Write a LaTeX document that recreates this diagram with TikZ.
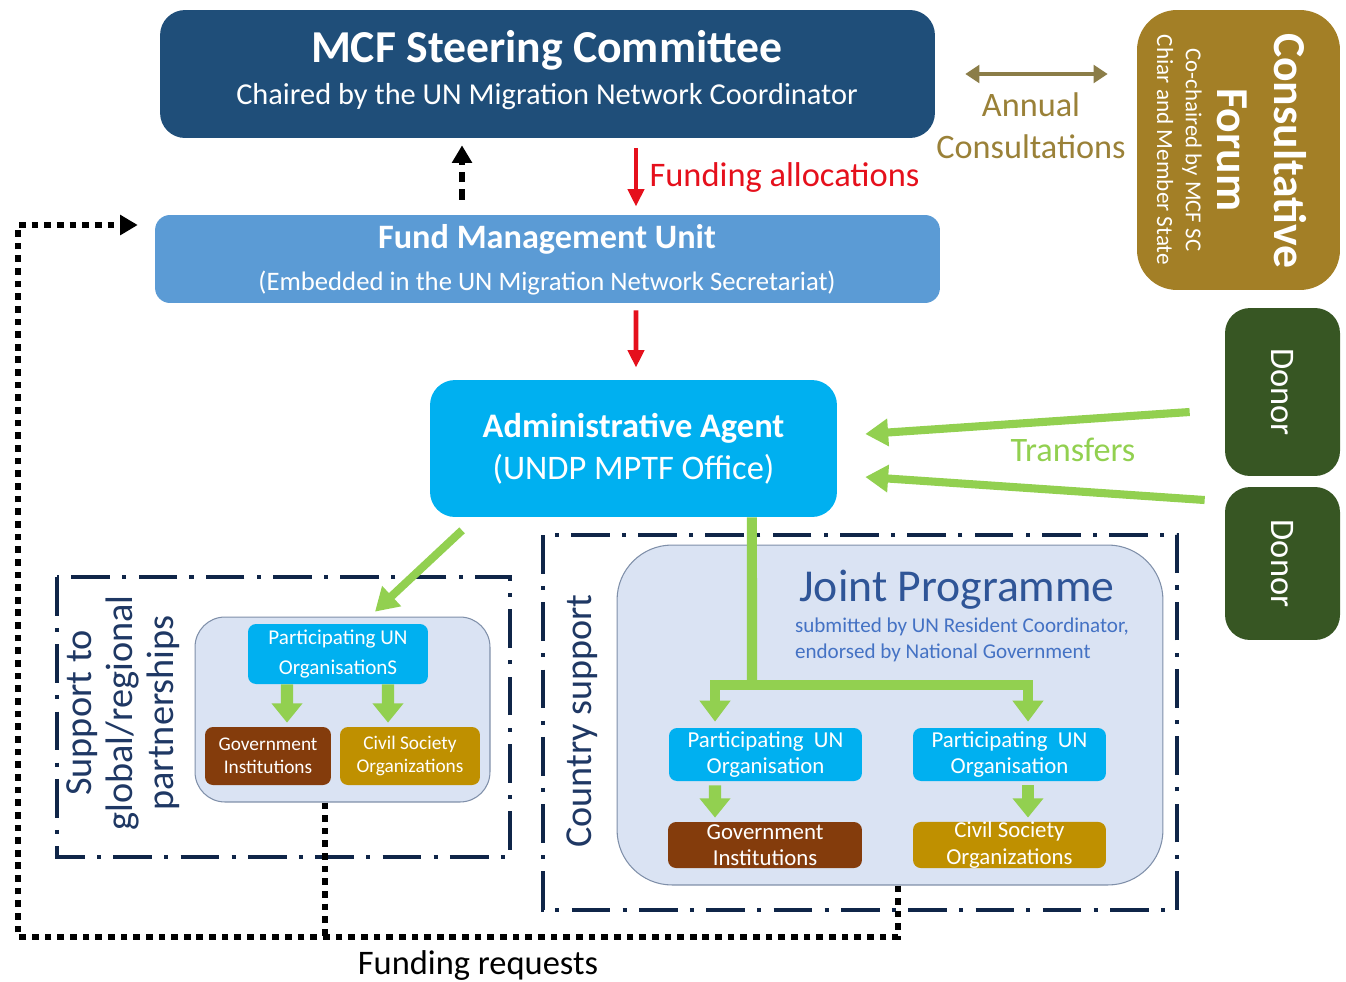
\documentclass[tikz,border=0pt]{standalone}
\usepackage{fontspec}
\setmainfont{Carlito}
\usetikzlibrary{arrows.meta}

\definecolor{steerblue}{HTML}{1F4E79}
\definecolor{fmublue}{HTML}{5B9BD5}
\definecolor{aacyan}{HTML}{00B0F0}
\definecolor{forumgold}{HTML}{A37F26}
\definecolor{annualline}{HTML}{8B7D48}
\definecolor{annualtext}{HTML}{9A8138}
\definecolor{donorgreen}{HTML}{375623}
\definecolor{pgreen}{HTML}{92D050}
\definecolor{navy}{HTML}{0F2548}
\definecolor{supporttext}{HTML}{1F3864}
\definecolor{panelfill}{HTML}{DAE3F3}
\definecolor{panelline}{HTML}{7F8FA9}
\definecolor{govbrown}{HTML}{843C0C}
\definecolor{csogold}{HTML}{BF9000}
\definecolor{jpblue}{HTML}{2F5597}
\definecolor{jpsub}{HTML}{4472C4}
\definecolor{allocred}{HTML}{E5101C}

\newcommand{\setfs}[2]{\fontsize{#1}{#2}\selectfont}

\begin{document}
\begin{tikzpicture}[x=0.02cm, y=-0.02cm,
  box/.style={inner sep=0pt, align=center, text=white},
  smallbox/.style={box, rounded corners=0.16cm},
  frame/.style={draw=navy, line width=2.3pt, dash pattern=on 22pt off 7pt on 2.3pt off 7pt},
  panel/.style={fill=panelfill, draw=panelline, line width=0.6pt},
  redarrow/.style={draw=allocred, line width=2.8pt, -{Triangle[width=9pt,length=10pt]}},
  greenarrow/.style={draw=pgreen, line width=4.6pt, -{Triangle[width=15pt,length=13pt]}},
  branchgreen/.style={draw=pgreen, line width=5.7pt, -{Triangle[width=17pt,length=12pt]}},
  fatgreen/.style={draw=pgreen, line width=7pt, -{Triangle[width=17pt,length=11pt]}},
  dotline/.style={draw=black, line width=3.8pt, dash pattern=on 3.8pt off 3.4pt},
  dashup/.style={draw=black, line width=3pt, dash pattern=on 6pt off 4pt, -{Triangle[width=11pt,length=10pt]}},
]
  \useasboundingbox (0,0) rectangle (1346,981);

  % steering committee
  \node[box, fill=steerblue, rounded corners=0.5cm, minimum width=15.5cm, minimum height=2.56cm] (steer) at (547.5,74) {};
  \node[text=white, font=\setfs{26}{30}\bfseries] (steertitle) at (547,50) {MCF Steering Committee};
  \node[text=white, font=\setfs{17.3}{20}] (steersub) at (547,97) {Chaired by the UN Migration Network Coordinator};

  % fund management unit
  \node[box, fill=fmublue, rounded corners=0.3cm, minimum width=15.7cm, minimum height=1.76cm] (fmu) at (547.5,259) {};
  \node[text=white, font=\setfs{19.5}{23}\bfseries] (fmutitle) at (547,239) {Fund Management Unit};
  \node[text=white, font=\setfs{15.2}{18}] (fmusub) at (547,283) {(Embedded in the UN Migration Network Secretariat)};

  % administrative agent
  \node[box, fill=aacyan, rounded corners=0.5cm, minimum width=8.14cm, minimum height=2.74cm, font=\setfs{19.6}{24}] (aa) at (633.5,448.5) {\textbf{Administrative Agent}\\(UNDP MPTF Office)};

  % consultative forum
  \node[box, fill=forumgold, rounded corners=0.8cm, minimum width=4.06cm, minimum height=5.6cm] (forum) at (1238.5,150) {};
  \node[rotate=-90, text=white, font=\setfs{26}{30}\bfseries] (forum1) at (1290,151) {Consultative};
  \node[rotate=-90, text=white, font=\setfs{26}{30}\bfseries] (forum2) at (1232,150) {Forum};
  \node[rotate=-90, text=white, font=\setfs{13}{15}] (forum3) at (1192,150) {Co-chaired by MCF SC};
  \node[rotate=-90, text=white, font=\setfs{13.2}{15}] (forum4) at (1165,150) {Chiar and Member State};

  % donors
  \node[box, fill=donorgreen, rounded corners=0.5cm, minimum width=2.3cm, minimum height=3.36cm,
        label={[rotate=-90, text=white, font=\setfs{19.6}{23}]center:Donor}] (donor1) at (1282.5,392) {};
  \node[box, fill=donorgreen, rounded corners=0.5cm, minimum width=2.3cm, minimum height=3.06cm,
        label={[rotate=-90, text=white, font=\setfs{19.6}{23}]center:Donor}] (donor2) at (1282.5,563.5) {};

  % support to global/regional partnerships
  \draw[frame] (57,577) rectangle (510,857);
  \node[rotate=90, text=supporttext, font=\setfs{21.8}{23.5}, align=center] (support) at (123,713) {Support to\\global/regional\\partnerships};
  \node[panel, rounded corners=0.6cm, minimum width=5.9cm, minimum height=3.7cm] (gpanel) at (342.5,709.5) {};
  \node[smallbox, fill=aacyan, minimum width=3.6cm, minimum height=1.2cm, font=\setfs{12}{17}] (gpuo) at (338,654) {Participating UN\\OrganisationS};
  \node[smallbox, fill=govbrown, minimum width=2.52cm, minimum height=1.16cm, font=\setfs{11}{12.8}] (ggov) at (268,756) {Government\\Institutions};
  \node[smallbox, fill=csogold, minimum width=2.8cm, minimum height=1.16cm, font=\setfs{11}{12.8}] (gcso) at (410,756) {Civil Society\\Organizations};

  % country support
  \draw[frame] (543,535) rectangle (1177,910);
  \node[rotate=90, text=supporttext, font=\setfs{21.7}{24}] (country) at (582,721) {Country support};
  \node[panel, rounded corners=1.1cm, minimum width=10.92cm, minimum height=6.8cm] (jp) at (890,715) {};
  \node[text=jpblue, font=\setfs{26}{30}] (jptitle) at (957,590) {Joint Programme};
  \node[text=jpsub, font=\setfs{12}{14.7}, align=left] (jpsub) at (962,640) {submitted by UN Resident Coordinator,\\endorsed by National Government};
  \node[smallbox, fill=aacyan, minimum width=3.86cm, minimum height=1.06cm, font=\setfs{13}{15}] (puoa) at (765.5,754.5) {Participating~ UN\\Organisation};
  \node[smallbox, fill=aacyan, minimum width=3.86cm, minimum height=1.06cm, font=\setfs{13}{15}] (puob) at (1009.5,754.5) {Participating~ UN\\Organisation};
  \node[smallbox, fill=govbrown, minimum width=3.88cm, minimum height=0.92cm, font=\setfs{13}{15}] (gova) at (765,845) {Government\\Institutions};
  \node[smallbox, fill=csogold, minimum width=3.86cm, minimum height=0.92cm, font=\setfs{13}{15}] (csob) at (1009.5,845) {Civil Society\\Organizations};

  % top arrows
  \draw[dashup] ([xshift=-1.71cm,yshift=0.3cm]fmu.north) -- ([xshift=-1.71cm,yshift=-0.14cm]steer.south);
  \draw[redarrow] ([xshift=1.77cm,yshift=-0.2cm]steer.south) -- ([xshift=1.77cm,yshift=0.16cm]fmu.north)
    node[midway, right, xshift=3pt, text=allocred, font=\setfs{19.6}{23}] (alloc) {Funding allocations};
  \draw[redarrow] ([xshift=1.77cm,yshift=-0.14cm]fmu.south) -- ([xshift=0.05cm,yshift=0.24cm]aa.north);

  % annual consultations
  \draw[draw=annualline, line width=2.8pt, {Triangle[width=10pt,length=8pt]}-{Triangle[width=10pt,length=8pt]}]
    ([xshift=0.6cm]steer.east) -- ([xshift=-0.58cm]steer.east -| forum.west);
  \node[text=annualtext, font=\setfs{19.5}{24}, align=center] (annual) at (1031,126) {Annual\\Consultations};

  % transfers
  \draw[greenarrow] ([xshift=-0.7cm,yshift=-0.4cm]donor1.west) -- ([xshift=0.56cm,yshift=0.29cm]aa.east);
  \draw[greenarrow] ([xshift=-0.4cm,yshift=1.27cm]donor2.west) -- ([xshift=0.56cm,yshift=-0.57cm]aa.east);
  \node[text=pgreen, font=\setfs{19.5}{23}] (transfers) at (1073,450) {Transfers};

  % flows to participating organisations
  \draw[greenarrow] ([xshift=-3.43cm,yshift=-0.26cm]aa.south) -- ([xshift=0.74cm,yshift=0.24cm]gpuo.north);
  \draw[fatgreen] ([xshift=-1.02cm]gpuo.south) -- ([xshift=0.38cm,yshift=0.08cm]ggov.north);
  \draw[fatgreen] ([xshift=1cm]gpuo.south) -- ([xshift=-0.44cm,yshift=0.08cm]gcso.north);

  \coordinate (branch) at (752,685);
  \draw[pgreen, line width=5.7pt] ([xshift=2.37cm]aa.south) -- (branch);
  \draw[branchgreen] (branch) -| ([xshift=-1.01cm,yshift=0.12cm]puoa.north);
  \draw[branchgreen] (branch) -| ([xshift=0.37cm,yshift=0.12cm]puob.north);
  \draw[fatgreen] ([xshift=-1.01cm,yshift=-0.08cm]puoa.south) -- ([xshift=-1cm,yshift=0.08cm]gova.north);
  \draw[fatgreen] ([xshift=0.37cm,yshift=-0.08cm]puob.south) -- ([xshift=0.37cm,yshift=0.08cm]csob.north);

  % funding requests
  \coordinate (reqcorner) at (18,937);
  \coordinate (greq) at ([xshift=-0.35cm]gpanel.south);
  \coordinate (jpreq) at ([xshift=0.16cm]jp.south);
  \draw[dotline] (greq) -- (greq |- reqcorner);
  \draw[dotline, -{Triangle[width=11pt,length=10pt]}] (jpreq) |- (reqcorner) |- ([xshift=-0.34cm,yshift=0.68cm]fmu.west);
  \node[font=\setfs{19.6}{23}] (requests) at (478,965) {Funding requests};

\end{tikzpicture}
\end{document}
